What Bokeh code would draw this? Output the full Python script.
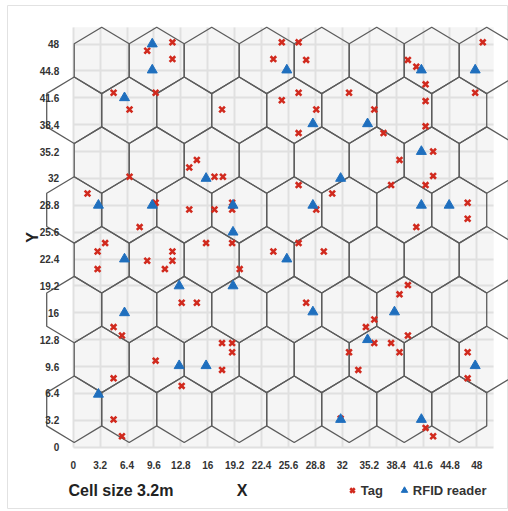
import math
from bokeh.plotting import figure
from bokeh.models import (Range1d, FixedTicker, Label, Legend, LegendItem, Grid, LinearAxis)
from bokeh.embed import file_html
from bokeh.resources import INLINE

# ---------------- data ----------------
tick_values = [0, 3.2, 6.4, 9.6, 12.8, 16, 19.2, 22.4, 25.6, 28.8, 32, 35.2, 38.4, 41.6, 44.8, 48]
tick_labels = ["0", "3.2", "6.4", "9.6", "12.8", "16", "19.2", "22.4", "25.6", "28.8",
               "32", "35.2", "38.4", "41.6", "44.8", "48"]

tag_x = [11.8, 8.8, 11.8, 24.8, 23.8, 4.8, 9.8, 6.7, 17.7, 24.8,
         14.7, 13.8, 16.8, 17.8, 6.7, 1.7, 9.8, 13.8, 16.8, 18.9,
         18.9, 7.9, 26.8, 27.7, 39.8, 40.8, 48.7, 41.9, 26.8, 32.8,
         28.9, 35.8, 41.9, 41.9, 47.8, 26.8, 36.9, 42.8, 38.8, 42.8,
         41.9, 37.8, 26.8, 30.8, 28.9, 46.9, 46.9, 40.8, 3.8, 2.9,
         2.9, 8.8, 11.8, 11.8, 10.9, 15.8, 18.9, 19.8, 23.8, 12.9,
         14.7, 4.8, 5.8, 17.7, 18.9, 18.9, 9.8, 17.7, 4.8, 12.9,
         4.8, 5.8, 26.8, 29.8, 39.8, 38.8, 27.7, 35.8, 34.8, 35.8,
         37.8, 38.8, 39.8, 32.8, 33.9, 46.9, 46.9, 41.9, 42.8, 31.8]
tag_y = [48.2, 47.2, 46.2, 48.2, 46.2, 42.2, 42.2, 40.2, 40.2, 41.3,
         34.2, 33.3, 32.2, 32.2, 32.2, 30.2, 29.1, 28.3, 28.3, 29.1,
         28.3, 26.2, 48.2, 46.1, 46.1, 45.3, 48.2, 43.2, 42.2, 42.2,
         40.2, 40.2, 41.2, 38.2, 42.2, 37.4, 37.4, 35.2, 34.2, 32.3,
         31.2, 31.2, 31.2, 30.2, 28.3, 29.1, 27.2, 26.2, 24.3, 23.3,
         21.2, 22.2, 23.3, 22.2, 21.2, 24.3, 24.3, 21.2, 23.3, 17.2,
         17.2, 14.3, 13.3, 12.4, 12.4, 11.3, 10.3, 9.2, 8.2, 7.3,
         3.3, 1.3, 24.3, 23.3, 19.3, 18.2, 17.2, 15.2, 14.3, 12.4,
         12.4, 11.3, 13.3, 11.3, 9.2, 11.3, 8.2, 2.3, 1.3, 3.4]

reader_x = [9.4, 9.4, 6.1, 15.8, 3.0, 9.4, 19.0, 19.0,
            25.4, 41.4, 47.8, 28.5, 35.0, 41.4, 31.8, 28.5, 41.4, 44.7,
            6.1, 12.6, 19.0, 6.1, 12.6, 15.8, 3.0,
            25.4, 28.5, 38.2, 35.0, 47.8, 31.8, 41.4]
reader_y = [48.0, 44.9, 41.6, 32.0, 28.8, 28.8, 28.8, 25.6,
            44.9, 44.9, 44.9, 38.5, 38.5, 35.2, 32.0, 28.8, 28.8, 28.8,
            22.4, 19.2, 19.2, 16.0, 9.7, 9.7, 6.3,
            22.4, 16.1, 16.1, 12.8, 9.7, 3.3, 3.3]

# ---------------- hex grid layout parameters ----------------
hex_rows = 8
hex_cols = 8
hex_half_w = 3.27
hex_r = 3.955
hex_top = 50.0
row_shift_even = 3.39
row_shift_odd = 0.12
area_max = 50

hex_xs, hex_ys = [], []
for i in range(hex_rows):
    cy = hex_top - hex_r - 1.5 * hex_r * i
    shift = row_shift_even if i % 2 == 0 else row_shift_odd
    for k in range(hex_cols):
        cx = shift + 2 * hex_half_w * k
        hex_xs.append([cx, cx + hex_half_w, cx + hex_half_w, cx, cx - hex_half_w, cx - hex_half_w])
        hex_ys.append([cy + hex_r, cy + hex_r / 2, cy - hex_r / 2, cy - hex_r, cy - hex_r / 2, cy + hex_r / 2])

# ---------------- figure ----------------
W, H = 508, 511
BL, BT, BR, BB = 7, 5, 0, 3          # borders around the frame
px_per_x, px_per_y = 8.41, 8.40
x0_px, y0_px = 72.7, 446.7            # canvas position of the data origin
x_range = Range1d((BL - x0_px) / px_per_x, (W - BR - x0_px) / px_per_x)
y_range = Range1d((y0_px - (H - BB)) / px_per_y, (y0_px - BT) / px_per_y)

p = figure(width=W, height=H, x_range=x_range, y_range=y_range,
           output_backend="svg", toolbar_location=None,
           min_border_left=BL, min_border_top=BT, min_border_right=BR, min_border_bottom=BB,
           x_axis_type=None, y_axis_type=None)
p.background_fill_color = "white"
p.border_fill_color = "white"
p.outline_line_color = "#e2e2e2"

FONT = "Liberation Sans"
overrides = {v: l for v, l in zip(tick_values, tick_labels)}

for side in ("below", "left"):
    ax = LinearAxis(ticker=FixedTicker(ticks=tick_values), fixed_location=0)
    ax.major_label_overrides = overrides
    ax.axis_line_color = None
    ax.major_tick_line_color = None
    ax.minor_tick_line_color = None
    ax.major_label_text_font = FONT
    ax.major_label_text_font_style = "bold"
    ax.major_label_text_font_size = "10px"
    ax.major_label_text_color = "#333333"
    ax.major_label_standoff = 8
    p.add_layout(ax, side)

# plot area background and grid
p.quad(left=[0], right=[area_max], bottom=[0], top=[area_max],
       fill_color="#f5f5f5", line_color=None, level="image")
for dim in (0, 1):
    g = Grid(dimension=dim, ticker=FixedTicker(ticks=tick_values),
             bounds=(0, area_max), cross_bounds=(0, area_max),
             grid_line_color="#e0e0e0", grid_line_width=2)
    p.add_layout(g)

# hexagons
p.patches(hex_xs, hex_ys, fill_color=None, line_color="#5c5c5c", line_width=1.3)

# points
r_tag = p.scatter(tag_x, tag_y, marker="x", size=8, line_color="#d12a1e", line_width=2.6)
r_reader = p.scatter(reader_x, reader_y, marker="triangle", size=10,
                     fill_color="#1f6fbe", line_color="#1f6fbe")

fw = W - BL - BR   # frame width
fh = H - BT - BB   # frame height

legend = Legend(items=[LegendItem(label="Tag", renderers=[r_tag]),
                       LegendItem(label="RFID reader", renderers=[r_reader])],
                orientation="horizontal", location=(343.7 - BL, H - BB - 499),
                glyph_width=16, glyph_height=18, label_height=18, label_standoff=1,
                spacing=13, padding=0, margin=0,
                label_text_font=FONT, label_text_font_style="bold",
                label_text_font_size="13px", label_text_color="#333333",
                background_fill_alpha=0, border_line_alpha=0)
p.add_layout(legend)

p.add_layout(Label(x=68 - BL, y=H - BB - 490, x_units="screen", y_units="screen",
                   text="Cell size 3.2m",
                   text_font=FONT, text_font_style="bold", text_font_size="16px",
                   text_color="#222222", text_baseline="middle"))
p.add_layout(Label(x=241.5 - BL, y=H - BB - 490, x_units="screen", y_units="screen", text="X",
                   text_font=FONT, text_font_style="bold", text_font_size="16px",
                   text_color="#222222", text_baseline="middle", text_align="center"))
p.add_layout(Label(x=32 - BL, y=H - BB - 237, x_units="screen", y_units="screen", text="Y",
                   angle=math.pi / 2, text_font=FONT, text_font_style="bold",
                   text_font_size="16px", text_color="#222222",
                   text_baseline="middle", text_align="center"))

open("out.html", "w").write(file_html(p, INLINE))
